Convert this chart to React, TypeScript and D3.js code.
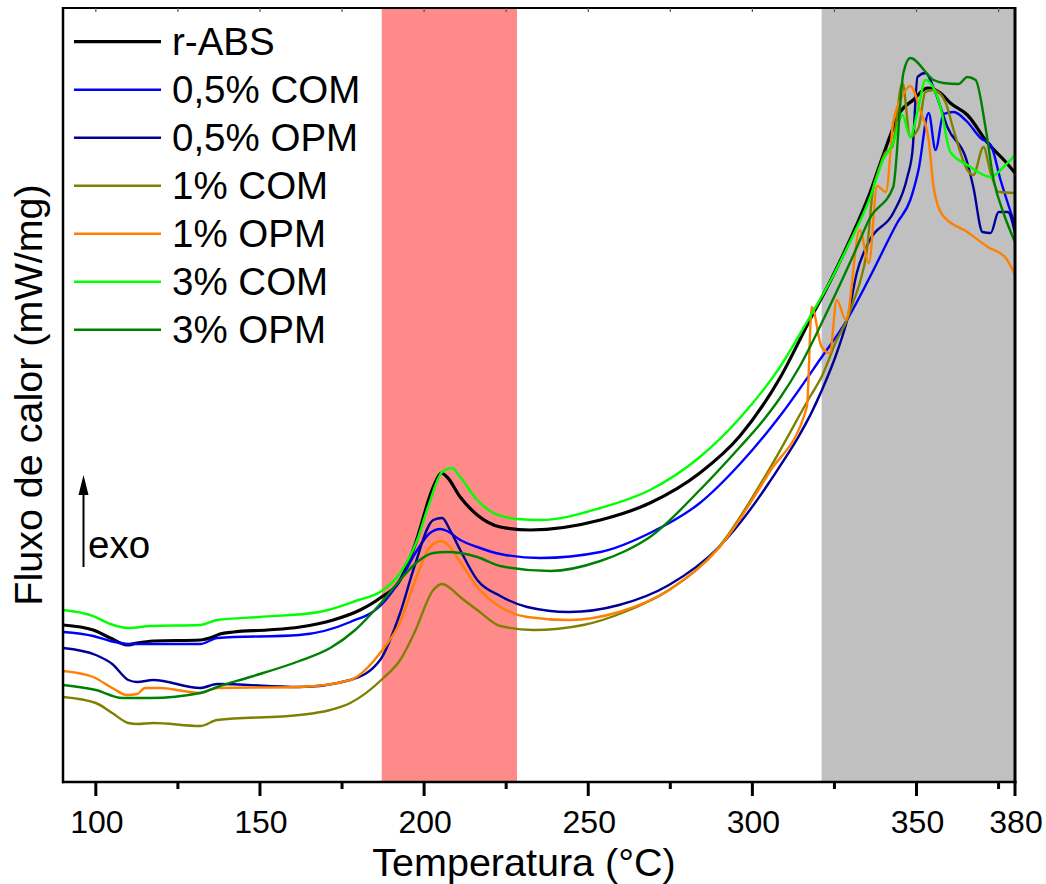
import React from "react";
import * as d3 from "d3";

// Temperature (°C) / heat flow (arbitrary units, exo up) pairs
const rABS: [number, number][] = [
  [90, 157], [99.2, 152], [104.4, 144], [109.5, 137], [112.6, 139], [117.5, 141], [131.8, 142], [135.6, 145],
  [137.8, 148], [141.9, 150], [152.2, 152], [162.2, 155], [172.3, 162], [180.5, 172], [186.6, 184], [192.7, 202],
  [197, 235], [202.8, 295], [205.2, 309], [207, 305], [211, 285], [216.2, 267], [223.2, 255], [232.3, 252],
  [253.7, 262], [268.8, 279], [284, 309], [296.2, 346], [308.4, 404], [317.5, 462], [323.6, 500], [329.7, 542],
  [335.8, 589], [340.4, 632], [345, 670], [349, 682], [353.3, 694], [357.3, 689], [360.3, 679], [365.5, 667],
  [371.7, 639], [377.2, 620], [380, 609],
];
const com05: [number, number][] = [
  [90, 150], [99.2, 146], [104.4, 141], [109.9, 138], [131.8, 138], [137, 144], [162, 147], [177.5, 160],
  [186.6, 176], [192.7, 202], [197.9, 232], [201.8, 249], [205, 253], [207, 251], [211, 242], [216.2, 235],
  [223.2, 228], [235.4, 224], [253.7, 230], [268.8, 249], [284, 279], [296.2, 318], [308.4, 366], [320.5, 422],
  [328.8, 462], [335.8, 505], [344.1, 559], [348.1, 582], [350.6, 612], [353.7, 669], [355.8, 632], [358.2, 668],
  [361.3, 670], [365.5, 660], [369.5, 644], [372.6, 637], [375.6, 602], [380, 557],
];
const opm05: [number, number][] = [
  [90, 134], [100, 127], [105, 118], [109.9, 102], [112.6, 100], [117.5, 102], [131.8, 94], [137, 98],
  [162, 95], [177.5, 102], [186.6, 122], [192.7, 169], [197, 215], [202.8, 262], [205.5, 264], [207.9, 252],
  [211, 232], [216.2, 202], [223.2, 186], [231.4, 175], [244.2, 170], [259.4, 177], [274.6, 197], [289.8, 235],
  [305, 299], [321.2, 392], [325.8, 430], [329.1, 465], [331.8, 509], [335.8, 542], [342.9, 569], [347.2, 605],
  [348.8, 632], [350.3, 705], [352.7, 709], [355.8, 689], [359.4, 655], [365.5, 619], [367.3, 595], [370.1, 550],
  [372.6, 549], [375, 570], [377.8, 570], [380, 549],
];
const com1: [number, number][] = [
  [90, 85], [100, 79], [105, 69], [109.9, 59], [112.6, 58], [117.5, 59], [131.8, 56], [137, 62],
  [162, 67], [171.4, 72], [177.5, 79], [187.6, 104], [192.7, 122], [197, 149], [202.8, 192], [205.5, 198],
  [207.9, 194], [211, 185], [216.2, 172], [223.2, 156], [233.3, 152], [248.5, 157], [261.8, 171], [274.6, 192],
  [289.8, 235], [305, 312], [317.5, 385], [321.2, 406], [325.7, 442], [328.8, 462], [330.6, 479], [332.7, 499],
  [334.9, 532], [336.7, 592], [338.3, 610], [340.4, 629], [342.6, 635], [345.7, 699], [348.1, 645], [350.6, 654],
  [352.7, 690], [355.2, 692], [358.8, 680], [361.3, 652], [365.5, 612], [367.3, 607], [370.4, 635], [372.6, 609],
  [375, 590], [380, 589],
];
const opm1: [number, number][] = [
  [90, 111], [99.2, 105], [105, 94], [109.5, 87], [112.6, 88], [115, 94], [119.6, 94], [131.8, 89],
  [137, 94], [162, 95], [177.5, 102], [186.6, 129], [192.7, 160], [197, 199], [201.8, 235], [205.2, 241],
  [207.9, 235], [211, 220], [216.2, 195], [223.2, 175], [231.4, 165], [244.2, 162], [259.4, 170], [274.6, 192],
  [289.8, 234], [305, 309], [316.6, 375], [318.1, 475], [321.1, 435], [323.6, 429], [325.7, 482], [328.5, 462],
  [332.7, 552], [335.5, 519], [338, 596], [340.7, 590], [342.9, 660], [345.4, 684], [348.1, 696], [351.2, 671],
  [353.7, 642], [355.2, 595], [357.9, 567], [365.5, 550], [371.7, 535], [377.2, 524], [380, 507],
];
const com3: [number, number][] = [
  [90, 172], [99.2, 166], [104.4, 158], [109.9, 154], [116.6, 156], [131.8, 157], [137, 162], [150, 165],
  [168, 170], [180, 182], [186.6, 190], [192.7, 209], [197.9, 242], [201.2, 275], [205.5, 310], [208.5, 314],
  [211, 305], [216.2, 282], [221.1, 269], [228.4, 263], [235.4, 262], [253.7, 274], [268.8, 292], [284, 325],
  [296.2, 364], [308.4, 415], [317.5, 465], [323.6, 500], [328.8, 534], [335.8, 584], [339.8, 622], [342.9, 639],
  [345.7, 667], [348.1, 645], [350.6, 675], [352.7, 702], [357.3, 675], [360.3, 630], [365.5, 617], [372.6, 605],
  [376.5, 615], [380, 627],
];
const opm3: [number, number][] = [
  [90, 97], [100, 92], [108, 84], [116.6, 84], [131.8, 89], [137, 95], [147, 105], [162, 121],
  [171.4, 134], [179, 152], [186.6, 178], [192.7, 202], [197.9, 220], [202.8, 229], [207, 230], [211, 229],
  [216.2, 225], [223.2, 216], [238.5, 211], [253.7, 221], [261.3, 231], [268.8, 245], [284, 292], [296.2, 335],
  [302.4, 358], [308.4, 384], [314.5, 416], [323.6, 476], [331.2, 530], [335.8, 564], [342.9, 595], [346, 709],
  [348.1, 724], [355.2, 702], [358.2, 699], [362.8, 698], [365.5, 705], [368, 702], [371, 655], [373.5, 602],
  [376.5, 569], [380, 540],
];

const seriesNames = ["r-ABS", "0,5% COM", "0,5% OPM", "1% COM", "1% OPM", "3% COM", "3% OPM"];
const seriesData = [rABS, com05, opm05, com1, opm1, com3, opm3];
const seriesColors = ["#000000", "#0000ff", "#000099", "#808000", "#ff8000", "#00ff00", "#008000"];

const majorTicks = [100, 150, 200, 250, 300, 350, 380];
const minorTicks = [125, 175, 225, 275, 325, 375];
const topTicks = [100, 125, 150, 175, 200, 225, 250, 275, 300, 325, 350, 375];
const redBand = [187.1, 228.3];
const grayBand = [321.1, 380];

const W = 1046, H = 884;
const L = 63, R = 1015, T = 8, B = 782;
const FONT = "'Liberation Sans', Arial, Helvetica, sans-serif";

export default function App() {
  const x = d3.scaleLinear().domain([90, 380]).range([L, R]);
  const y = d3.scaleLinear().domain([0, 774]).range([B, T]);
  const line = d3
    .line<[number, number]>()
    .x((d) => x(d[0]))
    .y((d) => y(d[1]))
    .curve(d3.curveMonotoneX);

  return (
    <svg width={W} height={H} style={{ position: "absolute", left: 0, top: 0, background: "#fff" }}>
      <defs>
        <clipPath id="plot">
          <rect x={L} y={T} width={R - L} height={B - T} />
        </clipPath>
      </defs>
      <rect x={0} y={0} width={W} height={H} fill="#fff" />
      <rect x={x(redBand[0])} y={T} width={x(redBand[1]) - x(redBand[0])} height={B - T} fill="#ff8a8a" />
      <rect x={x(grayBand[0])} y={T} width={x(grayBand[1]) - x(grayBand[0])} height={B - T} fill="#c0c0c0" />

      <g clipPath="url(#plot)" fill="none" strokeLinejoin="round">
        {seriesData.map((d, i) => (
          <path key={i} d={line(d) || ""} stroke={seriesColors[i]} strokeWidth={i === 0 ? 3.2 : 2.4} />
        ))}
      </g>

      {/* frame */}
      <line x1={L} y1={T} x2={R} y2={T} stroke="#000" strokeWidth={2} />
      <line x1={L} y1={T - 1} x2={L} y2={B + 1.2} stroke="#000" strokeWidth={2.5} />
      <line x1={R} y1={T - 1} x2={R} y2={B + 1.2} stroke="#000" strokeWidth={3} />
      <line x1={L - 1} y1={B} x2={R + 1.5} y2={B} stroke="#000" strokeWidth={2.5} />

      {topTicks.map((t) => (
        <line key={"tt" + t} x1={x(t)} x2={x(t)} y1={T} y2={T + 4} stroke="#555" strokeWidth={1.2} />
      ))}
      {majorTicks.map((t) => (
        <line key={"mj" + t} x1={x(t)} x2={x(t)} y1={B} y2={B + 14} stroke="#000" strokeWidth={3} />
      ))}
      {minorTicks.map((t) => (
        <line key={"mn" + t} x1={x(t)} x2={x(t)} y1={B} y2={B + 7} stroke="#000" strokeWidth={3} />
      ))}
      {majorTicks.map((t) => (
        <text key={"lb" + t} x={x(t) + 1} y={833} textAnchor="middle" fontFamily={FONT} fontSize={32} fill="#000">
          {t}
        </text>
      ))}

      <text x={524} y={876} textAnchor="middle" fontFamily={FONT} fontSize={39.5} fill="#000">
        Temperatura (°C)
      </text>
      <text
        transform="translate(42,395) rotate(-90)"
        textAnchor="middle"
        fontFamily={FONT}
        fontSize={39.5}
        fill="#000"
      >
        Fluxo de calor (mW/mg)
      </text>

      {/* exo arrow */}
      <line x1={83.5} y1={490} x2={83.5} y2={567} stroke="#000" strokeWidth={2} />
      <polygon points="83.5,475 78.5,495 88.5,495" fill="#000" />
      <text x={88} y={558} fontFamily={FONT} fontSize={38.5} fill="#000">
        exo
      </text>

      {/* legend */}
      {seriesNames.map((n, i) => {
        const ly = 41.7 + i * 48;
        return (
          <g key={"lg" + n}>
            <line x1={74} x2={161} y1={ly} y2={ly} stroke={seriesColors[i]} strokeWidth={i === 0 ? 3.2 : 2.4} />
            <text x={172} y={ly + 13.5} fontFamily={FONT} fontSize={38.5} fill="#000">
              {n}
            </text>
          </g>
        );
      })}
    </svg>
  );
}
